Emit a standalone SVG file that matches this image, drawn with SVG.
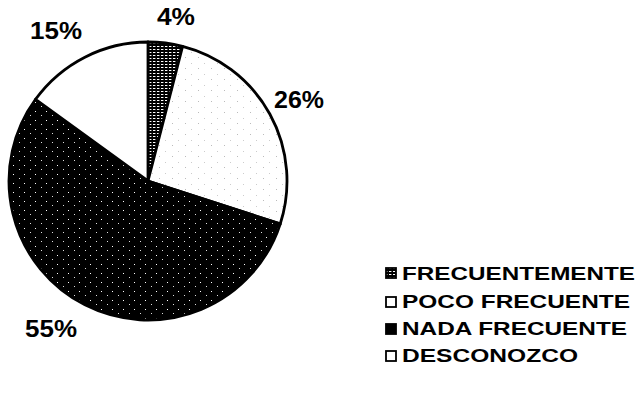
<svg xmlns="http://www.w3.org/2000/svg" width="639" height="406" viewBox="0 0 639 406">
  <style>
    .pct { font-family: "Liberation Sans", Arial, sans-serif; font-weight: bold; font-size: 24px; fill: #000; }
    .leg { font-family: "Liberation Sans", Arial, sans-serif; font-weight: bold; font-size: 19px; fill: #000; }
    .slice { stroke: #000; stroke-width: 2.8; stroke-linejoin: round; }
    .sw { stroke: #000; stroke-width: 1.8; }
  </style>
  <defs>
    <pattern id="grid" width="4" height="3" patternUnits="userSpaceOnUse">
      <rect width="4" height="3" fill="#000"/>
      <rect x="1" y="1" width="2.4" height="1" fill="#fff"/>
    </pattern>
    <pattern id="light" width="13" height="11" patternUnits="userSpaceOnUse">
      <rect width="13" height="11" fill="#fff"/>
      <rect x="3" y="2" width="1" height="1" fill="#bbb"/>
      <rect x="9" y="8" width="1" height="1" fill="#ccc"/>
    </pattern>
    <pattern id="dark" width="11" height="9" patternUnits="userSpaceOnUse">
      <rect width="11" height="9" fill="#000"/>
      <rect x="2" y="3" width="1" height="1" fill="#fff"/>
      <rect x="8" y="7" width="1" height="1" fill="#ddd"/>
    </pattern>
  </defs>
  <rect width="639" height="406" fill="#fff"/>

  <g id="slice-frecuentemente">
    <path class="slice" fill="url(#grid)" d="M148,181 L148,42 A139,139 0 0 1 182.57,46.36 Z"/>
  </g>
  <g id="slice-poco-frecuente">
    <path class="slice" fill="url(#light)" d="M148,181 L182.57,46.36 A139,139 0 0 1 280.2,223.95 Z"/>
  </g>
  <g id="slice-nada-frecuente">
    <path class="slice" fill="url(#dark)" d="M148,181 L280.2,223.95 A139,139 0 1 1 35.55,99.3 Z"/>
  </g>
  <g id="slice-desconozco">
    <path class="slice" fill="#fff" d="M148,181 L35.55,99.3 A139,139 0 0 1 148,42 Z"/>
  </g>

  <g id="labels">
    <text class="pct" x="157" y="25" textLength="38" lengthAdjust="spacingAndGlyphs">4%</text>
    <text class="pct" x="30" y="39" textLength="52" lengthAdjust="spacingAndGlyphs">15%</text>
    <text class="pct" x="274" y="108" textLength="50" lengthAdjust="spacingAndGlyphs">26%</text>
    <text class="pct" x="25" y="337" textLength="52" lengthAdjust="spacingAndGlyphs">55%</text>
  </g>

  <g id="legend-frecuentemente">
    <rect class="sw" x="386" y="268" width="10" height="10" fill="url(#grid)"/>
    <text class="leg" x="402" y="280" textLength="233" lengthAdjust="spacingAndGlyphs">FRECUENTEMENTE</text>
  </g>
  <g id="legend-poco-frecuente">
    <rect class="sw" x="386" y="297" width="10" height="10" fill="#fff"/>
    <text class="leg" x="402" y="308" textLength="228" lengthAdjust="spacingAndGlyphs">POCO FRECUENTE</text>
  </g>
  <g id="legend-nada-frecuente">
    <rect class="sw" x="386" y="324" width="10" height="10" fill="#000"/>
    <text class="leg" x="402" y="335" textLength="225" lengthAdjust="spacingAndGlyphs">NADA FRECUENTE</text>
  </g>
  <g id="legend-desconozco">
    <rect class="sw" x="386" y="351" width="10" height="10" fill="#fff"/>
    <text class="leg" x="402" y="362" textLength="176" lengthAdjust="spacingAndGlyphs">DESCONOZCO</text>
  </g>
</svg>
